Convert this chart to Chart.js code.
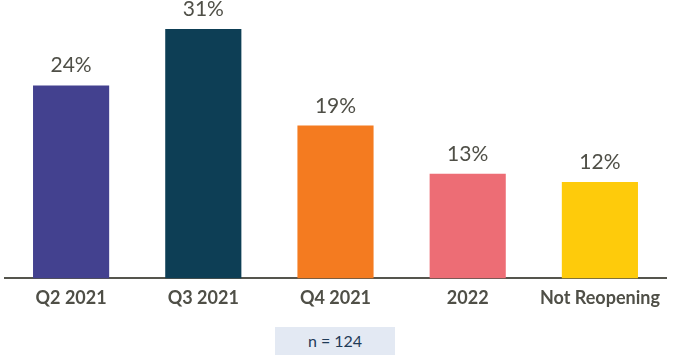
<!DOCTYPE html>
<html>
<head>
<meta charset="utf-8">
<script src="https://cdn.jsdelivr.net/npm/chart.js@4"></script>
<style>
  html, body { margin: 0; padding: 0; background: #fff; }
  #wrap { position: relative; width: 690px; height: 356px; }
  #sample-size {
    position: absolute;
    left: 275px;
    top: 327px;
    width: 120px;
    height: 28px;
    line-height: 28px;
    background: #e3e9f3;
    color: #1f3b58;
    font-family: Lato, sans-serif;
    font-size: 16px;
    text-align: center;
  }
</style>
</head>
<body>
<div id="wrap">
  <canvas id="reopen-chart" width="690" height="356"></canvas>
  <div id="sample-size">n = 124</div>
</div>
<script>
const CATEGORIES = ['Q2 2021', 'Q3 2021', 'Q4 2021', '2022', 'Not Reopening'];
const PERCENTS = [24, 31, 19, 13, 12];
const BAR_COLORS = ['#43418f', '#0d3e55', '#f47b20', '#ed6d75', '#fecb0b'];

const TEXT_GRAY = '#4f4f47';

// draws the "24%" style labels above each bar
const valueLabels = {
  id: 'valueLabels',
  afterDatasetsDraw(chart) {
    const ctx = chart.ctx;
    const meta = chart.getDatasetMeta(0);
    ctx.save();
    ctx.font = '21px Lato, sans-serif';
    ctx.fillStyle = TEXT_GRAY;
    ctx.textAlign = 'center';
    ctx.textBaseline = 'alphabetic';
    meta.data.forEach((bar, i) => {
      ctx.fillText(PERCENTS[i] + '%', bar.x, bar.y - 13);
    });
    ctx.restore();
  }
};

window.addEventListener('DOMContentLoaded', () => {
  new Chart(document.getElementById('reopen-chart'), {
    type: 'bar',
    data: {
      labels: CATEGORIES,
      datasets: [{
        data: PERCENTS,
        backgroundColor: BAR_COLORS,
        borderWidth: 0,
        categoryPercentage: 1,
        barPercentage: 0.576
      }]
    },
    options: {
      responsive: false,
      animation: false,
      events: [],
      layout: {
        padding: { top: 13, left: 5, right: 24, bottom: 46 }
      },
      scales: {
        x: {
          grid: { display: false },
          border: { display: true, color: '#55554d', width: 2 },
          ticks: {
            color: TEXT_GRAY,
            padding: 1,
            font: { family: 'Lato', size: 18, weight: 'bold' }
          }
        },
        y: {
          display: false,
          min: 0,
          max: 33
        }
      },
      plugins: {
        legend: { display: false },
        tooltip: { enabled: false }
      }
    },
    plugins: [valueLabels]
  });
});
</script>
</body>
</html>
